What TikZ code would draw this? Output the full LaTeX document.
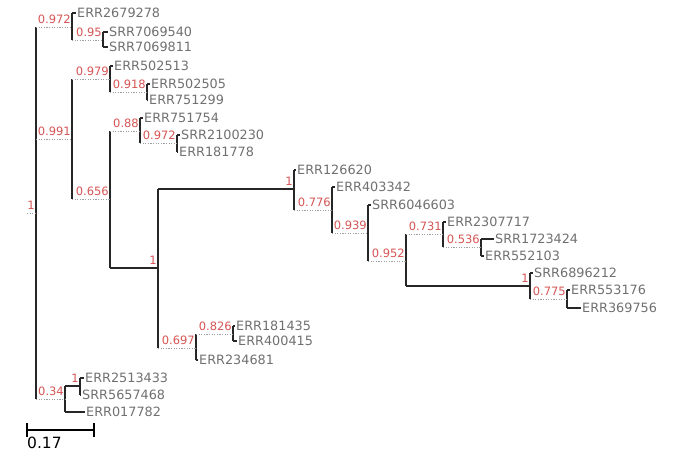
\documentclass[tikz,border=0pt]{standalone}
\usepackage{fontspec}
\setmainfont{DejaVu Sans}
\definecolor{leafgray}{RGB}{112,112,112}
\definecolor{supred}{RGB}{214,84,84}
\begin{document}
\begin{tikzpicture}[x=1pt,y=-1pt,
  br/.style={line width=1.5pt, black!85},
  dot/.style={line width=1pt, gray!75, dash pattern=on 1.2pt off 1.4pt},
  leaf/.style={anchor=west, inner xsep=1pt, inner ysep=0pt, text=leafgray, font=\fontsize{12.8}{13}\selectfont},
  sup/.style={anchor=south east, inner sep=0pt, text=supred, font=\fontsize{11.5}{12}\selectfont},
  sbar/.style={line width=1.6pt, black}]
\useasboundingbox (0,0) rectangle (676,461);
% internal nodes
\coordinate (Rs) at (27,213);
\coordinate (R) at (36,213);
\coordinate (A) at (72,27);
\coordinate (A2) at (103,40);
\coordinate (B) at (72,139);
\coordinate (B1) at (110,79);
\coordinate (B1a) at (147,92);
\coordinate (B2) at (110,199);
\coordinate (B2a) at (140,131);
\coordinate (B2a2) at (177,143);
\coordinate (B2b) at (158,268);
\coordinate (D) at (294,189);
\coordinate (D2) at (332,210);
\coordinate (D3) at (368,233);
\coordinate (D4) at (406,261);
\coordinate (D5) at (443,234);
\coordinate (D5b) at (481,247);
\coordinate (D6) at (530,286);
\coordinate (D6b) at (567,299);
\coordinate (E) at (196,348);
\coordinate (E1) at (233,334);
\coordinate (C) at (65,399);
\coordinate (C1) at (80,386);
% leaves
\foreach \n/\p/\x/\y/\t in {
  l1/A/76/13/ERR2679278, l2/A2/108/32/SRR7069540, l3/A2/108/47/SRR7069811,
  l4/B1/113/66/ERR502513, l5/B1a/150/84/ERR502505, l6/B1a/148/100/ERR751299,
  l7/B2a/143/118/ERR751754, l8/B2a2/180/135/SRR2100230, l9/B2a2/178/152/ERR181778,
  l10/D/296/170/ERR126620, l11/D2/335/187/ERR403342, l12/D3/371/205/SRR6046603,
  l13/D5/446/222/ERR2307717, l14/D5b/494/239/SRR1723424, l15/D5b/484/256/ERR552103,
  l16/D6/533/273/SRR6896212, l17/D6b/570/290/ERR553176, l18/D6b/581/308/ERR369756,
  l19/E1/235/326/ERR181435, l20/E1/237/341/ERR400415, l21/E/198/360/ERR234681,
  l22/C1/84/378/ERR2513433, l23/C1/81/395/SRR5657468, l24/C/85/412/ERR017782}
{
  \node[leaf] (\n) at (\x,\y) {\t};
  \draw[br] (\p |- \n.west) -- (\n.west);
}
% vertical lines
\foreach \p/\a/\b in {R/A/C, A/l1/A2, A2/l2/l3, B/B1/B2, B1/l4/B1a, B1a/l5/l6,
  B2/B2a/B2b, B2a/l7/B2a2, B2a2/l8/l9, B2b/D/E, D/l10/D2, D2/l11/D3, D3/l12/D4,
  D4/D5/D6, D5/l13/D5b, D5b/l14/l15, D6/l16/D6b, D6b/l17/l18, E/E1/l21,
  E1/l19/l20, C/C1/l24, C1/l22/l23}
{
  \draw[br] (\p |- \a.west) -- (\p |- \b.west);
}
% dotted branches
\foreach \p/\c in {Rs/R, R/A, A/A2, R/B, B/B1, B1/B1a, B/B2, B2/B2a, B2a/B2a2,
  D/D2, D2/D3, D3/D4, D4/D5, D5/D5b, D6/D6b, B2b/E, E/E1, R/C}
{
  \draw[dot] (\p |- \c) -- (\c);
}
% solid branches
\foreach \p/\c in {B2/B2b, B2b/D, D4/D6, C/C1}
{
  \draw[br] (\p |- \c) -- (\c);
}
% support labels
\foreach \c/\s in {R/1, A/0.972, A2/0.95, B/0.991, B1/0.979, B1a/0.918, B2/0.656,
  B2a/0.88, B2a2/0.972, B2b/1, D/1, D2/0.776, D3/0.939, D4/0.952, D5/0.731,
  D5b/0.536, D6/1, D6b/0.775, E/0.697, E1/0.826, C/0.34, C1/1}
{
  \node[sup] at ([xshift=-1pt,yshift=3pt]\c) {\s};
}
% scale bar
\coordinate (sb1) at (27,430);
\coordinate (sb2) at (94,430);
\draw[sbar] (sb1) -- (sb2);
\draw[sbar] ([yshift=7pt]sb1) -- ([yshift=-7pt]sb1);
\draw[sbar] ([yshift=7pt]sb2) -- ([yshift=-7pt]sb2);
\node[anchor=north west, inner sep=0pt, font=\fontsize{15.5}{16}\selectfont] (sbl) at (27,437) {0.17};
\end{tikzpicture}
\end{document}
